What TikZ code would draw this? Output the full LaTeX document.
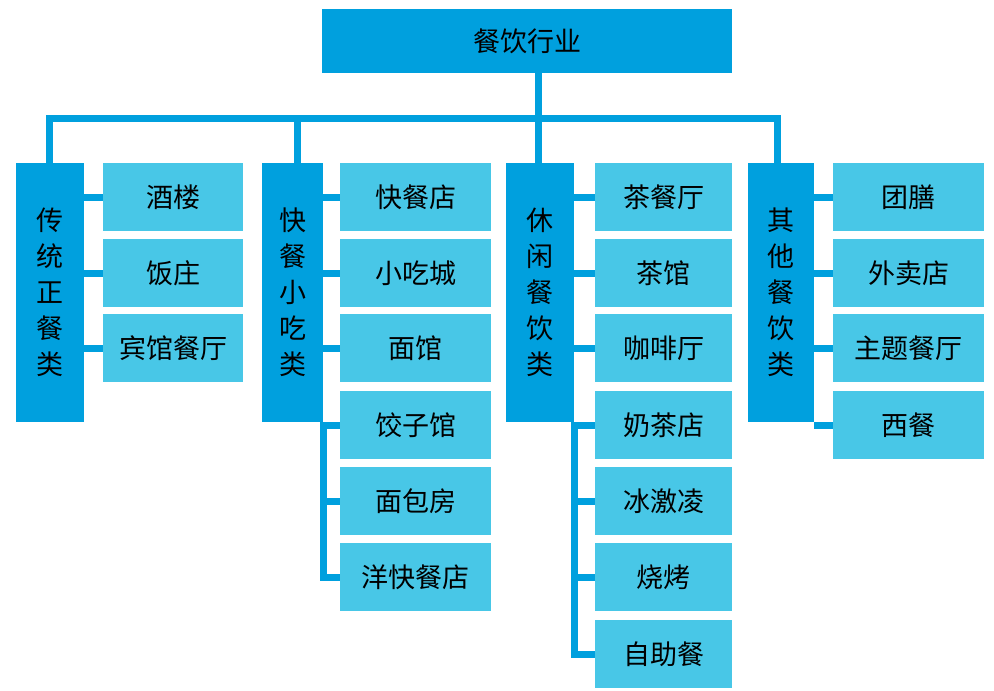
\documentclass[tikz,border=0pt]{standalone}
\usepackage{fontspec}
\newfontfamily\cjk{Noto Sans CJK SC}
\usepackage{xcolor}
\usepackage{tikz}
\definecolor{catblue}{RGB}{0,160,222}
\definecolor{leafblue}{RGB}{72,199,231}
\tikzset{
  topbox/.style={fill=catblue, minimum width=410pt, minimum height=64pt, inner sep=0pt},
  catbox/.style={fill=catblue, minimum height=259pt, inner sep=0pt, align=center},
  leafbox/.style={fill=leafblue, minimum height=68pt, inner sep=0pt},
  link/.style={draw=catblue, line width=7pt}
}
\begin{document}
\begin{tikzpicture}[x=1pt, y=-1pt, font=\cjk\fontsize{27}{36}\selectfont]
        \useasboundingbox (0,0) rectangle (994,691);
        % top of the tree
        \node[topbox] (top) at (527,41) {餐饮行业};
        % four categories
        \node[catbox, minimum width=68pt] (trad) at (50,292.5) {传\\统\\正\\餐\\类};
        \node[catbox, minimum width=61pt] (fast) at (292.5,292.5) {快\\餐\\小\\吃\\类};
        \node[catbox, minimum width=68pt] (leis) at (540,292.5) {休\\闲\\餐\\饮\\类};
        \node[catbox, minimum width=66pt] (other) at (781,292.5) {其\\他\\餐\\饮\\类};
        % traditional
        \node[leafbox, minimum width=140pt] (trad1) at (173,197) {酒楼};
        \node[leafbox, minimum width=140pt] (trad2) at (173,273) {饭庄};
        \node[leafbox, minimum width=140pt] (trad3) at (173,348) {宾馆餐厅};
        % fast food
        \node[leafbox, minimum width=151pt] (fast1) at (415.5,197) {快餐店};
        \node[leafbox, minimum width=151pt] (fast2) at (415.5,273) {小吃城};
        \node[leafbox, minimum width=151pt] (fast3) at (415.5,348) {面馆};
        \node[leafbox, minimum width=151pt] (fast4) at (415.5,425) {饺子馆};
        \node[leafbox, minimum width=151pt] (fast5) at (415.5,501) {面包房};
        \node[leafbox, minimum width=151pt] (fast6) at (415.5,577) {洋快餐店};
        % leisure
        \node[leafbox, minimum width=137pt] (leis1) at (663.5,197) {茶餐厅};
        \node[leafbox, minimum width=137pt] (leis2) at (663.5,273) {茶馆};
        \node[leafbox, minimum width=137pt] (leis3) at (663.5,348) {咖啡厅};
        \node[leafbox, minimum width=137pt] (leis4) at (663.5,425) {奶茶店};
        \node[leafbox, minimum width=137pt] (leis5) at (663.5,501) {冰激凌};
        \node[leafbox, minimum width=137pt] (leis6) at (663.5,577) {烧烤};
        \node[leafbox, minimum width=137pt] (leis7) at (663.5,654) {自助餐};
        % others
        \node[leafbox, minimum width=151pt] (other1) at (908.5,197) {团膳};
        \node[leafbox, minimum width=151pt] (other2) at (908.5,273) {外卖店};
        \node[leafbox, minimum width=151pt] (other3) at (908.5,348) {主题餐厅};
        \node[leafbox, minimum width=151pt] (other4) at (908.5,425) {西餐};
        % links from the top
        \coordinate (hub) at (538,118);
        \draw[link] (top.south -| hub) -- (hub |- leis.north);
        \draw[link] ([xshift=-1pt]trad.north) |- (hub) -| ([xshift=-4pt]other.north);
        \draw[link] ([xshift=5pt]fast.north) -- ([xshift=5pt]fast.north |- hub);
        % links to the leaves
        \draw[link] (trad.east |- trad1.west) -- (trad1.west);
        \draw[link] (trad.east |- trad2.west) -- (trad2.west);
        \draw[link] (trad.east |- trad3.west) -- (trad3.west);
        \draw[link] (fast.east |- fast1.west) -- (fast1.west);
        \draw[link] (fast.east |- fast2.west) -- (fast2.west);
        \draw[link] (fast.east |- fast3.west) -- (fast3.west);
        \draw[link] (fast.south east) |- (fast6.west);
        \draw[link] (fast.east |- fast4.west) -- (fast4.west);
        \draw[link] (fast.east |- fast5.west) -- (fast5.west);
        \draw[link] (leis.east |- leis1.west) -- (leis1.west);
        \draw[link] (leis.east |- leis2.west) -- (leis2.west);
        \draw[link] (leis.east |- leis3.west) -- (leis3.west);
        \draw[link] (leis.south east) |- (leis7.west);
        \draw[link] (leis.east |- leis4.west) -- (leis4.west);
        \draw[link] (leis.east |- leis5.west) -- (leis5.west);
        \draw[link] (leis.east |- leis6.west) -- (leis6.west);
        \draw[link] (other.east |- other1.west) -- (other1.west);
        \draw[link] (other.east |- other2.west) -- (other2.west);
        \draw[link] (other.east |- other3.west) -- (other3.west);
        \draw[link] (other.east |- other4.west) -- (other4.west);
    \end{tikzpicture}
\end{document}
